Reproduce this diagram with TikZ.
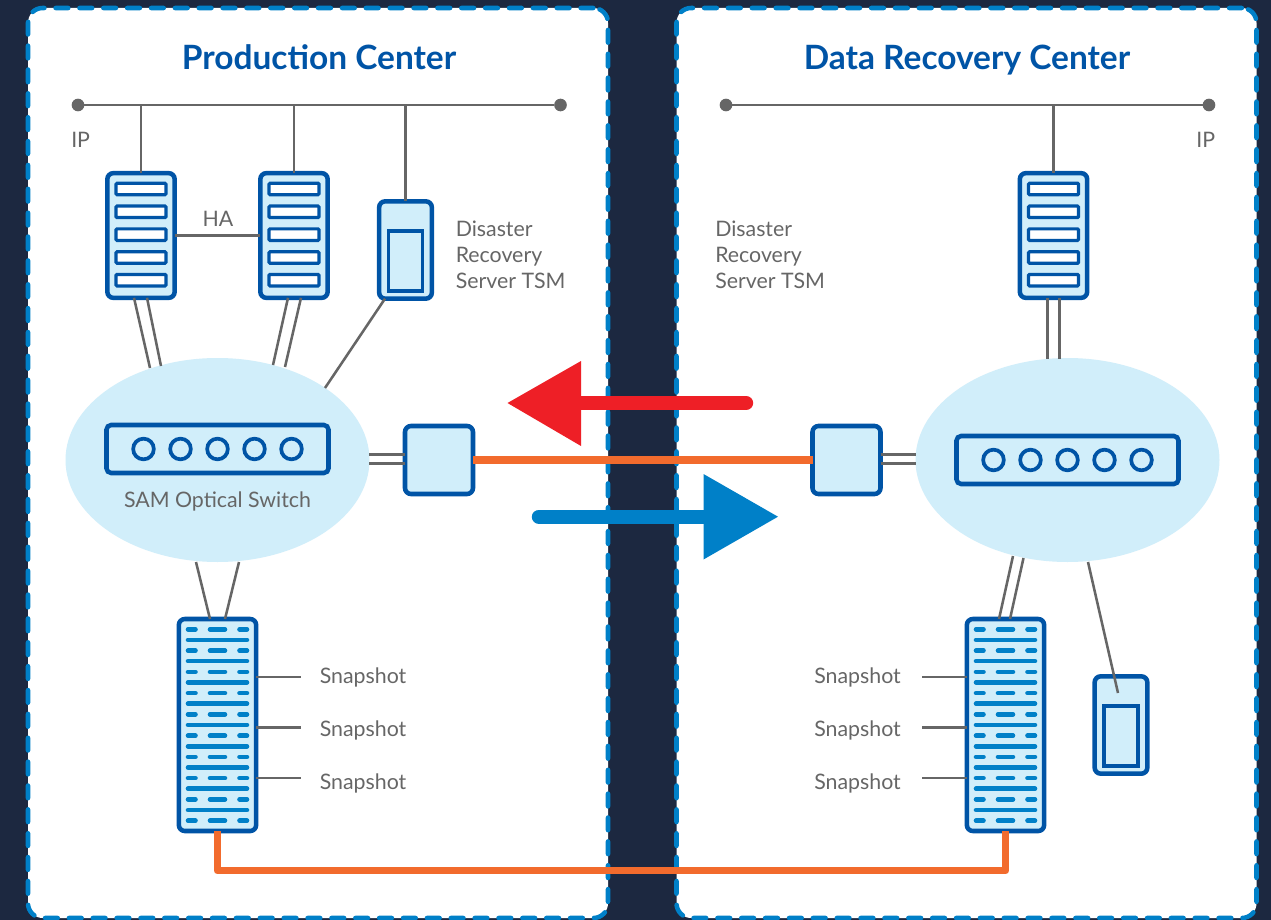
\documentclass[tikz,border=0pt]{standalone}
\usepackage{fontspec}
\setmainfont{Lato}
\usetikzlibrary{calc,shapes.geometric}
\definecolor{navy}{HTML}{1C2840}
\definecolor{deep}{HTML}{0054A6}
\definecolor{mid}{HTML}{0080C8}
\definecolor{pale}{HTML}{D1EEFA}
\definecolor{orng}{HTML}{F26B2D}
\definecolor{redd}{HTML}{EE1F26}
\definecolor{gry}{HTML}{666666}
\tikzset{
  panel/.style={draw=mid,fill=white,line width=3.4pt,rounded corners=11pt,inner sep=0pt,outer sep=0pt,
    dash pattern=on 9.5pt off 8.4pt,line cap=round,minimum width=435pt,minimum height=682.5pt},
  cloud/.style={ellipse,fill=pale,inner sep=0pt,outer sep=0pt,minimum width=228pt,minimum height=153pt},
  unit/.style={draw=deep,fill=pale,line width=3.4pt,rounded corners=4.5pt,inner sep=0pt,outer sep=0pt},
  serverbox/.style={unit,minimum width=50.5pt,minimum height=93.5pt},
  tsmbox/.style={unit,minimum width=39.5pt,minimum height=73pt},
  storebox/.style={unit,minimum width=58pt,minimum height=159pt},
  switchbox/.style={unit,rounded corners=3.5pt,minimum width=166.5pt,minimum height=36pt},
  portbox/.style={unit,minimum width=51pt,minimum height=51pt},
  slot/.style={draw=deep,fill=white,line width=2.4pt,rounded corners=.8pt},
  inner/.style={draw=deep,fill=pale,line width=2.4pt},
  led/.style={circle,draw=deep,fill=pale,line width=2.8pt,inner sep=0pt,outer sep=0pt,minimum size=15.5pt},
  wire/.style={draw=gry,line width=1.9pt},
  heavy link/.style={draw=orng,line width=5.8pt,line join=round},
  bar/.style={draw=mid,line width=3.4pt,line cap=round},
  tip/.style={circle,fill=gry,inner sep=0pt,outer sep=0pt,minimum size=9.5pt},
  title/.style={text=deep,font=\bfseries\fontsize{25.1}{29}\selectfont,inner sep=0pt,anchor=base},
  label/.style={text=gry,font=\fontsize{16}{19.5}\selectfont,inner sep=0pt,anchor=base west},
  block/.style={text=gry,font=\fontsize{16}{19.5}\selectfont,inner sep=0pt,anchor=west,align=left},
}
% px scale: 1px = .75pt, y downwards
\newcommand{\serverunit}[3]{%
  \node[serverbox] (#1) at (#2,#3) {};
  \foreach \dy in {-46.5,-23.7,-0.8,22,44.7}{
    \draw[slot] ($(#1.center)+(-25,\dy-5.8)$) rectangle ($(#1.center)+(25,\dy+5.8)$);
  }}
\newcommand{\tsmunit}[3]{%
  \node[tsmbox] (#1) at (#2,#3) {};
  \draw[inner] ($(#1.center)+(-17,-19)$) rectangle ($(#1.center)+(17,41)$);}
\newcommand{\storeunit}[3]{%
  \node[storebox] (#1) at (#2,#3) {};
  \foreach \k in {0,2,...,18}{
    \pgfmathsetmacro{\yy}{-95.7+\k*10.63}
    \draw[bar] ($(#1.center)+(-29.5,\yy)$) -- ($(#1.center)+(-22,\yy)$);
    \draw[bar] ($(#1.center)+(-7.5,\yy)$) -- ($(#1.center)+(7.5,\yy)$);
    \draw[bar] ($(#1.center)+(22,\yy)$) -- ($(#1.center)+(29.5,\yy)$);
  }
  \foreach \k in {1,3,...,17}{
    \pgfmathsetmacro{\yy}{-95.7+\k*10.63}
    \draw[bar] ($(#1.center)+(-29.5,\yy)$) -- ($(#1.center)+(29.5,\yy)$);
  }}
\newcommand{\switchunit}[3]{%
  \node[switchbox] (#1) at (#2,#3) {};
  \foreach \dx/\n in {-74/a,-37/b,0/c,37/d,74/e}{
    \node[led] (#1\n) at ($(#1.center)+(\dx,0)$) {};
  }}
\begin{document}
\begin{tikzpicture}[x=0.75pt,y=-0.75pt]
\useasboundingbox (0,0) rectangle (1271,920);
\fill[navy] (0,0) rectangle (1271,920);
\node[panel] (panelA) at (318,463) {};
\node[panel] (panelB) at (966.5,463) {};

\node[title] (titleA) at (319,70) {Production Center};
\node[title] (titleB) at (967,70) {Data Recovery Center};

\node[cloud] (cloudA) at (217.5,460) {};
\node[cloud] (cloudB) at (1067.5,460) {};

\node[tip] (ipA1) at (78,105) {};
\node[tip] (ipA2) at (560.5,105) {};
\node[tip] (ipB1) at (726,105) {};
\node[tip] (ipB2) at (1209,105) {};

\serverunit{srvA}{141}{235.5}
\serverunit{srvB}{294}{235.5}
\serverunit{srvC}{1053.5}{235.5}
\tsmunit{tsmA}{405.5}{250}
\tsmunit{tsmB}{1121}{725}
\storeunit{stoA}{217.5}{725}
\storeunit{stoB}{1005.5}{725}
\switchunit{swA}{217.5}{449}
\switchunit{swB}{1067.5}{460}
\node[portbox] (portA) at (439,460) {};
\node[portbox] (portB) at (846.5,460) {};

% coordinates for ends of multi-strand links
\coordinate (a1) at (150,368); \coordinate (a2) at (161,366);
\coordinate (b1) at (273,365); \coordinate (b2) at (285,367);
\coordinate (t1) at (325,388);
\coordinate (s1) at (1118,693);

\draw[wire] (ipA1) -- (ipA2);
\draw[wire] (ipB1) -- (ipB2);
\draw[wire] (srvA.south -| 134,0) -- (a1);
\draw[wire] (srvA.south -| 147,0) -- (a2);
\draw[wire] (srvB.south -| 288,0) -- (b1);
\draw[wire] (srvB.south -| 301,0) -- (b2);
\draw[wire] (tsmA.south -| 385,0) -- (t1);
\draw[wire] (srvA.east) -- (srvB.west);
\draw[wire] (ipA1 -| srvA) -- (srvA.north);
\draw[wire] (ipA1 -| srvB) -- (srvB.north);
\draw[wire] (ipA1 -| tsmA) -- (tsmA.north);
\draw[wire] (ipB1 -| srvC) -- (srvC.north);
\draw[wire] ($(srvC.south)+(-6,0)$) -- ($(srvC.south)+(-6,61)$);
\draw[wire] ($(srvC.south)+(6,0)$) -- ($(srvC.south)+(6,61)$);
\draw[wire] (196,562) -- (stoA.north -| 210,0);
\draw[wire] (239,562) -- (stoA.north -| 225,0);
\draw[wire] (1013,556) -- (stoB.north -| 999,0);
\draw[wire] (1023.5,558) -- (stoB.north -| 1010,0);
\draw[wire] (1088,562) -- (s1);
\draw[wire] (369,454.5) -- (portA.west |- 0,454.5);
\draw[wire] (369,463.5) -- (portA.west |- 0,463.5);
\draw[wire] (portB.east |- 0,454.5) -- (915.5,454.5);
\draw[wire] (portB.east |- 0,463.5) -- (915.5,463.5);
\foreach \y [count=\i] in {677,727.5,778}{
  \coordinate (sna\i) at (301,\y);
  \coordinate (snb\i) at (922,\y);
  \draw[wire] (stoA.east |- sna\i) -- (sna\i);
  \draw[wire] (snb\i) -- (stoB.west |- snb\i);
}

\draw[heavy link] (portA.east) -- (portB.west);
\draw[heavy link] (stoA.south) -- ++(0,39.5) -| (stoB.south);

% red and blue direction arrows
\coordinate (redtail) at (746,403); \coordinate (redbase) at (581,403);
\coordinate (bluetail) at (539,516.7); \coordinate (bluebase) at (703.5,516.7);
\draw[redd,line width=10.8pt,line cap=round] (redtail) -- (redbase);
\fill[redd] (581,361) -- (507.5,403) -- (581,446) -- cycle;
\draw[mid,line width=10.8pt,line cap=round] (bluetail) -- (bluebase);
\fill[mid] (703.5,474) -- (778,516.7) -- (703.5,559.5) -- cycle;

\node[label] (ipla) at (71,148) {IP};
\node[label] (iplb) at (1196,148) {IP};
\node[label,anchor=base] (ha) at (218,226) {HA};
\node[block] (drA) at (455.5,255) {Disaster\\Recovery\\Server TSM};
\node[block] (drB) at (715,255) {Disaster\\Recovery\\Server TSM};
\node[label,anchor=base] (sam) at (217.5,507) {SAM Optical Switch};
\foreach \y [count=\i] in {683,736,789}{
  \node[label] (lsa\i) at (319.5,\y) {Snapshot};
  \node[label] (lsb\i) at (814,\y) {Snapshot};
}
\end{tikzpicture}
\end{document}
